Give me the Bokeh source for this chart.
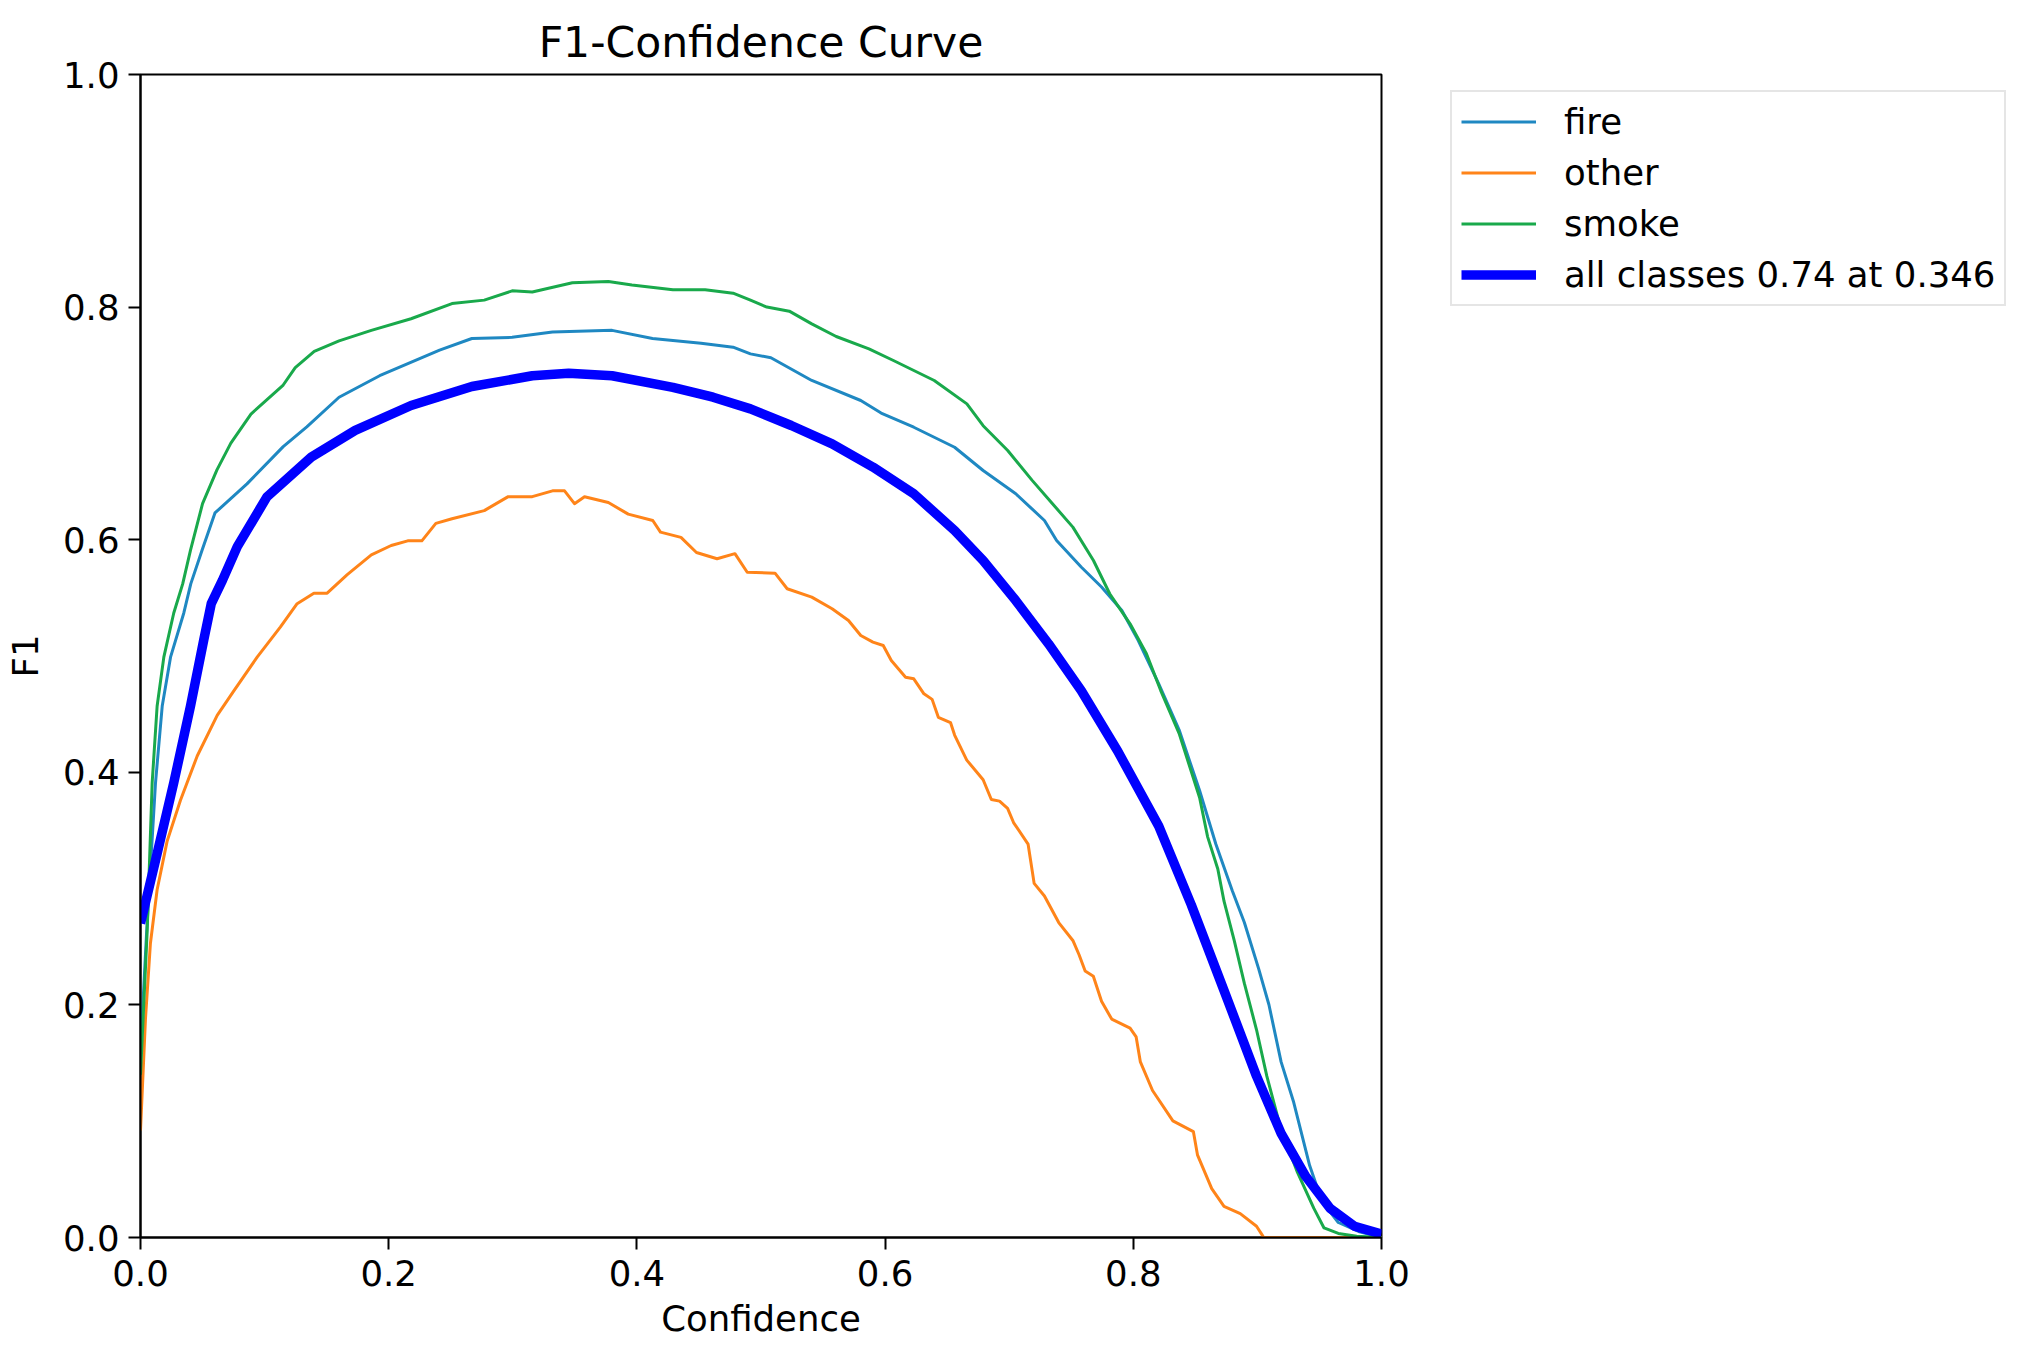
from bokeh.plotting import figure
from bokeh.models import Range1d, FixedTicker, Legend, LegendItem
from bokeh.embed import file_html
from bokeh.resources import INLINE

# values
fire_x = [0.000, 0.005, 0.0121, 0.0175, 0.0242, 0.0349, 0.0405, 0.0496, 0.060, 0.0858,
          0.115, 0.134, 0.160, 0.1927, 0.241, 0.267, 0.2995, 0.332, 0.380, 0.4126,
          0.4517, 0.4775, 0.4915, 0.508, 0.5409, 0.5804, 0.5968, 0.6231, 0.656, 0.679,
          0.7053, 0.7284, 0.7382, 0.758, 0.7744, 0.7908, 0.804, 0.8205, 0.8369, 0.8534,
          0.8665, 0.8797, 0.8895, 0.9011, 0.9093, 0.9191, 0.929, 0.9421, 0.952, 0.9652,
          0.9815, 1.0]
fire_y = [0.16, 0.264, 0.391, 0.457, 0.499, 0.537, 0.562, 0.591, 0.623, 0.648,
          0.680, 0.697, 0.7225, 0.741, 0.763, 0.773, 0.774, 0.7785, 0.780, 0.773,
          0.769, 0.7655, 0.7598, 0.7564, 0.7369, 0.7197, 0.7089, 0.6967, 0.6795, 0.6595,
          0.6395, 0.6165, 0.5993, 0.5765, 0.5593, 0.5391, 0.5133, 0.4761, 0.4365, 0.3843,
          0.3383, 0.2984, 0.2708, 0.2308, 0.2001, 0.151, 0.1172, 0.0619, 0.0312, 0.0129,
          0.0052, 0.0]

other_x = [0.000, 0.004, 0.008, 0.0134, 0.0215, 0.0322, 0.0457, 0.0618, 0.0752, 0.094,
           0.1128, 0.1262, 0.1397, 0.1504, 0.1666, 0.186, 0.202, 0.2153, 0.2267, 0.238,
           0.251, 0.277, 0.2963, 0.3157, 0.332, 0.3417, 0.3497, 0.3578, 0.377, 0.393,
           0.4128, 0.419, 0.4355, 0.448, 0.4646, 0.479, 0.4889, 0.5113, 0.5211, 0.5409,
           0.5573, 0.5705, 0.5804, 0.5902, 0.5985, 0.605, 0.6165, 0.6231, 0.6313, 0.6379,
           0.6429, 0.6527, 0.656, 0.6658, 0.679, 0.6856, 0.6922, 0.6987, 0.7035, 0.7152,
           0.7201, 0.7284, 0.7399, 0.7513, 0.7563, 0.7612, 0.7678, 0.7744, 0.7826, 0.7974,
           0.8023, 0.8057, 0.8155, 0.8319, 0.8484, 0.8517, 0.8632, 0.8731, 0.8862, 0.8993,
           0.9043, 0.905, 1.0]
other_y = [0.092, 0.188, 0.253, 0.299, 0.341, 0.376, 0.414, 0.449, 0.470, 0.499,
           0.525, 0.545, 0.554, 0.554, 0.570, 0.587, 0.595, 0.599, 0.599, 0.614,
           0.618, 0.625, 0.637, 0.637, 0.642, 0.642, 0.631, 0.637, 0.632, 0.622,
           0.6165, 0.6065, 0.602, 0.589, 0.5836, 0.588, 0.572, 0.5712, 0.5578, 0.5506,
           0.5406, 0.5305, 0.5176, 0.5119, 0.509, 0.4961, 0.4818, 0.4804, 0.4675, 0.4627,
           0.4473, 0.4428, 0.432, 0.4105, 0.3936, 0.3766, 0.3752, 0.369, 0.3568, 0.3383,
           0.3045, 0.2937, 0.2708, 0.2554, 0.2431, 0.2292, 0.2247, 0.2032, 0.1878, 0.1801,
           0.1725, 0.151, 0.1264, 0.1003, 0.0911, 0.0711, 0.042, 0.0267, 0.0205, 0.0097,
           0.0014, 0.0, 0.0]

smoke_x = [0.000, 0.0054, 0.0094, 0.0134, 0.0188, 0.0268, 0.034, 0.0403, 0.050, 0.0616,
           0.0728, 0.089, 0.115, 0.1247, 0.140, 0.160, 0.186, 0.218, 0.251, 0.277,
           0.2995, 0.3157, 0.348, 0.377, 0.396, 0.429, 0.455, 0.4775, 0.4915, 0.5047,
           0.5228, 0.5409, 0.5606, 0.587, 0.6067, 0.6396, 0.6659, 0.679, 0.6988, 0.7185,
           0.7349, 0.7513, 0.7679, 0.781, 0.7974, 0.8106, 0.8221, 0.8369, 0.8534, 0.8599,
           0.8681, 0.8731, 0.8813, 0.8895, 0.8993, 0.9076, 0.9191, 0.9323, 0.9455, 0.9537,
           0.9652, 0.98, 1.0]
smoke_y = [0.14, 0.264, 0.391, 0.457, 0.499, 0.537, 0.562, 0.591, 0.631, 0.660,
           0.683, 0.708, 0.733, 0.748, 0.762, 0.771, 0.780, 0.790, 0.803, 0.806,
           0.814, 0.813, 0.821, 0.822, 0.819, 0.815, 0.815, 0.812, 0.806, 0.800,
           0.7965, 0.7856, 0.7747, 0.7641, 0.7541, 0.7369, 0.7168, 0.698, 0.6767, 0.651,
           0.6309, 0.6108, 0.5821, 0.5535, 0.5277, 0.5019, 0.4703, 0.4335, 0.3783, 0.3445,
           0.3168, 0.2892, 0.2554, 0.2185, 0.1786, 0.1387, 0.0926, 0.0559, 0.025, 0.0082,
           0.0035, 0.001, 0.0]

all_x = [0.000, 0.0134, 0.0268, 0.0403, 0.051, 0.057, 0.066, 0.078, 0.102, 0.1376,
         0.173, 0.218, 0.267, 0.3157, 0.345, 0.380, 0.429, 0.4614, 0.4915, 0.5244,
         0.5573, 0.5902, 0.6231, 0.656, 0.679, 0.7053, 0.7317, 0.758, 0.7875, 0.8205,
         0.8467, 0.8731, 0.8993, 0.9191, 0.9388, 0.9586, 0.9783, 1.0]
all_y = [0.27, 0.330, 0.391, 0.457, 0.514, 0.545, 0.565, 0.594, 0.637, 0.671,
         0.694, 0.7154, 0.7317, 0.741, 0.7432, 0.741, 0.731, 0.7225, 0.7125, 0.6982,
         0.6824, 0.6625, 0.6395, 0.6079, 0.5821, 0.5477, 0.5105, 0.4703, 0.4181, 0.3537,
         0.2861, 0.2124, 0.1387, 0.0895, 0.0527, 0.025, 0.0097, 0.003]

tick_values = [0.0, 0.2, 0.4, 0.6, 0.8, 1.0]
tick_labels = ["0.0", "0.2", "0.4", "0.6", "0.8", "1.0"]
labels = ["fire", "other", "smoke", "all classes 0.74 at 0.346"]

FONT = "DejaVu Sans"
SIZE = "35.5px"

p = figure(frame_width=1241, frame_height=1163,
           min_border_left=140, min_border_right=633, min_border_top=74, min_border_bottom=100,
           x_range=Range1d(0, 1), y_range=Range1d(0, 1),
           output_backend="svg", toolbar_location=None,
           title="F1-Confidence Curve")

p.title.align = "center"
p.title.text_font = FONT
p.title.text_font_size = "42.5px"
p.title.text_font_style = "normal"
p.title.text_color = "black"
p.title.standoff = 15

p.xgrid.visible = False
p.ygrid.visible = False
p.outline_line_color = "black"
p.outline_line_width = 2
p.outline_line_alpha = 1

overrides = dict(zip(tick_values, tick_labels))
for ax in (p.xaxis[0], p.yaxis[0]):
    ax.ticker = FixedTicker(ticks=tick_values)
    ax.major_label_overrides = overrides
    ax.major_label_text_font = FONT
    ax.major_label_text_font_size = SIZE
    ax.major_label_text_color = "black"
    ax.axis_label_text_font = FONT
    ax.axis_label_text_font_size = SIZE
    ax.axis_label_text_font_style = "normal"
    ax.axis_label_text_color = "black"
    ax.axis_line_color = "black"
    ax.axis_line_width = 2
    ax.major_tick_line_color = "black"
    ax.major_tick_line_width = 2
    ax.major_tick_out = 12
    ax.major_tick_in = 0
    ax.minor_tick_line_color = None

p.xaxis.axis_label = "Confidence"
p.yaxis.axis_label = "F1"
p.xaxis.major_label_standoff = 10
p.yaxis.major_label_standoff = 9
p.xaxis.axis_label_standoff = 9
p.yaxis.axis_label_standoff = 14

r_fire = p.line(fire_x, fire_y, line_color="#1f88c2", line_width=3, line_join="round")
r_other = p.line(other_x, other_y, line_color="#ff8419", line_width=3, line_join="round")
r_smoke = p.line(smoke_x, smoke_y, line_color="#19a94b", line_width=3, line_join="round")
r_all = p.line(all_x, all_y, line_color="#0000ff", line_width=9.5, line_join="round")

legend = Legend(items=[LegendItem(label=l, renderers=[r])
                       for l, r in zip(labels, [r_fire, r_other, r_smoke, r_all])],
                location=(69, 931))
legend.label_text_font = FONT
legend.label_text_font_size = SIZE
legend.label_text_color = "black"
legend.glyph_width = 75
legend.glyph_height = 41
legend.label_height = 41
legend.label_standoff = 28
legend.spacing = 10
legend.padding = 9
legend.margin = 0
legend.border_line_color = "#cccccc"
legend.border_line_width = 2
legend.background_fill_color = "white"
legend.background_fill_alpha = 1
p.add_layout(legend, "right")

open("out.html", "w").write(file_html(p, INLINE))
